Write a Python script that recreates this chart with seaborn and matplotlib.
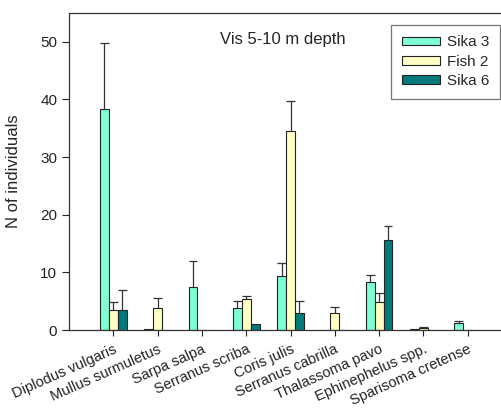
import matplotlib
matplotlib.use('Agg')
import matplotlib.pyplot as plt
import seaborn as sns
import pandas as pd

sns.set_style('ticks')
plt.rcParams['font.family'] = ['Liberation Sans', 'DejaVu Sans']

species = ['Diplodus vulgaris', 'Mullus surmuletus', 'Sarpa salpa',
           'Serranus scriba', 'Coris julis', 'Serranus cabrilla',
           'Thalassoma pavo', 'Ephinephelus spp.', 'Sparisoma cretense']
groups = ['Sika 3', 'Fish 2', 'Sika 6']

sika3_mean = [38.4, 0.2, 7.4, 3.9, 9.3, 0.0, 8.3, 0.15, 1.25]
sika3_err = [11.4, 0.0, 4.6, 1.1, 2.4, 0.0, 1.3, 0.0, 0.35]
fish2_mean = [3.5, 3.75, 0.0, 5.3, 34.5, 3.0, 4.8, 0.35, 0.0]
fish2_err = [1.3, 1.85, 0.0, 0.6, 5.3, 1.0, 1.6, 0.2, 0.0]
sika6_mean = [3.5, 0.0, 0.0, 1.0, 3.0, 0.0, 15.6, 0.0, 0.0]
sika6_err = [3.5, 0.0, 0.0, 0.0, 2.1, 0.0, 2.5, 0.0, 0.0]

colors = ['#7fffd4', '#ffffc4', '#007b7b']

df = pd.DataFrame({
    'species': species * 3,
    'group': [g for g in groups for _ in species],
    'mean': sika3_mean + fish2_mean + sika6_mean,
    'err': sika3_err + fish2_err + sika6_err,
})

fig = plt.figure(figsize=(5.01, 4.15), dpi=100)
ax = fig.add_axes([0.1377, 0.2048, 0.8623, 0.7639])

sns.barplot(data=df, x='species', y='mean', hue='group', hue_order=groups,
            order=species, palette=colors, width=0.6, gap=0,
            errorbar=None, edgecolor='#222222', linewidth=0.8, ax=ax,
            saturation=1)

# upper-only error bars: stem + cap on top
errs = [sika3_err, fish2_err, sika6_err]
for cont, err in zip(ax.containers, errs):
    for bar, e in zip(cont, err):
        if e > 0:
            x = bar.get_x() + bar.get_width() / 2
            top = bar.get_height() + e
            ax.vlines(x, bar.get_height(), top, color='#333333', lw=0.9,
                      zorder=1)
            ax.hlines(top, x - bar.get_width() * 0.5,
                      x + bar.get_width() * 0.5, color='#333333', lw=0.9,
                      zorder=1)

ax.set_xlim(-1, 8.75)
ax.set_ylim(0, 55)
ax.set_yticks([0, 10, 20, 30, 40, 50])
ax.set_xlabel('')
ax.set_ylabel('N of individuals', fontsize=12)
ax.yaxis.set_label_coords(-0.112, 0.5)
ax.tick_params(axis='y', labelsize=11, length=5, width=0.8, colors='#222222')
ax.tick_params(axis='x', labelsize=10.5, length=4, width=0.8, pad=5,
               colors='#222222')
for lab in ax.get_xticklabels():
    lab.set_rotation(24)
    lab.set_ha('right')
    lab.set_va('top')
    lab.set_rotation_mode('anchor')

for s in ['left', 'top', 'bottom']:
    ax.spines[s].set_color('#333333')
    ax.spines[s].set_linewidth(0.9)
ax.spines['right'].set_visible(False)

ax.text(0.494, 0.915, 'Vis 5-10 m depth', transform=ax.transAxes,
        ha='center', va='center', fontsize=12)

leg = ax.legend(loc='upper right', bbox_to_anchor=(0.998, 0.963),
                fontsize=11, frameon=True, fancybox=False,
                handlelength=2.5, handleheight=0.5, labelspacing=0.35,
                borderpad=0.7, handletextpad=0.45, borderaxespad=0)
leg.get_frame().set_edgecolor('#555555')
leg.get_frame().set_linewidth(0.9)

fig.savefig('out.png', dpi=100)
